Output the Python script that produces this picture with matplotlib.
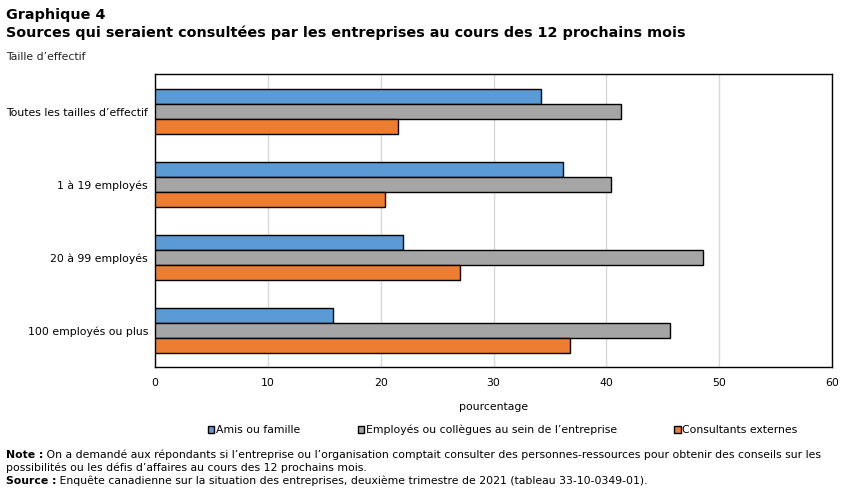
import matplotlib
matplotlib.use("Agg")
import matplotlib.pyplot as plt
import numpy as np

# data (pourcentage)
categories = ["Toutes les tailles d\u2019effectif", "1 \u00e0 19 employ\u00e9s",
              "20 \u00e0 99 employ\u00e9s", "100 employ\u00e9s ou plus"]
series_names = ["Amis ou famille",
                "Employ\u00e9s ou coll\u00e8gues au sein de l\u2019entreprise",
                "Consultants externes"]
amis = [34.2, 36.2, 22.0, 15.8]
employes = [41.3, 40.4, 48.6, 45.6]
consultants = [21.5, 20.4, 27.0, 36.8]
colors = ["#5b9bd5", "#a5a5a5", "#ed7d31"]
xticks = [0, 10, 20, 30, 40, 50, 60]

plt.rcParams["font.family"] = ["DejaVu Sans"]
fs = 7.8

fig = plt.figure(figsize=(8.52, 4.92), dpi=100)
ax = fig.add_axes([155 / 852, 1 - 367 / 492, (832 - 155) / 852, (367 - 74) / 492])

y = np.arange(len(categories))
h = 0.205
for k, (vals, name, c) in enumerate(zip([amis, employes, consultants], series_names, colors)):
    ax.barh(y + (k - 1) * h, vals, height=h, color=c, edgecolor="black",
            linewidth=1, label=name, zorder=3)

ax.set_xlim(0, 60)
ax.set_ylim(3.5, -0.52)
ax.set_xticks(xticks)
ax.set_yticks(y)
ax.set_yticklabels(categories)
ax.tick_params(axis="both", length=0, labelsize=fs, pad=5)
ax.tick_params(axis="x", pad=8)
ax.grid(axis="x", color="#d9d9d9", linewidth=1, zorder=0)
for s in ax.spines.values():
    s.set_color("black")
    s.set_linewidth(1)
ax.set_xlabel("pourcentage", fontsize=fs, labelpad=10)

fig.legend(loc="center", bbox_to_anchor=(0.59, 1 - 430 / 492), ncol=3,
           frameon=False, fontsize=fs, handlelength=0.6, handleheight=0.6,
           handletextpad=0.15, columnspacing=5.3)

fig.text(6 / 852, 1 - 15 / 492, "Graphique 4", fontsize=10.4, fontweight="bold", va="center")
fig.text(6 / 852, 1 - 33 / 492,
         "Sources qui seraient consult\u00e9es par les entreprises au cours des 12 prochains mois",
         fontsize=10.4, fontweight="bold", va="center")
fig.text(6 / 852, 1 - 57 / 492, "Taille d\u2019effectif", fontsize=fs, va="center", color="#222222")

note_b = fig.text(6 / 852, 1 - 458 / 492, "Note :", fontsize=fs, fontweight="bold", va="baseline")
ax.annotate(" On a demand\u00e9 aux r\u00e9pondants si l\u2019entreprise ou l\u2019organisation comptait "
            "consulter des personnes-ressources pour obtenir des conseils sur les",
            xy=(1, 0), xycoords=note_b, fontsize=fs, va="bottom", annotation_clip=False)
fig.text(6 / 852, 1 - 471 / 492,
         "possibilit\u00e9s ou les d\u00e9fis d\u2019affaires au cours des 12 prochains mois.",
         fontsize=fs, va="baseline")
src_b = fig.text(6 / 852, 1 - 484 / 492, "Source :", fontsize=fs, fontweight="bold", va="baseline")
ax.annotate(" Enqu\u00eate canadienne sur la situation des entreprises, deuxi\u00e8me trimestre de 2021 "
            "(tableau 33-10-0349-01).",
            xy=(1, 0), xycoords=src_b, fontsize=fs, va="bottom", annotation_clip=False)

fig.savefig("out.png", dpi=100)
